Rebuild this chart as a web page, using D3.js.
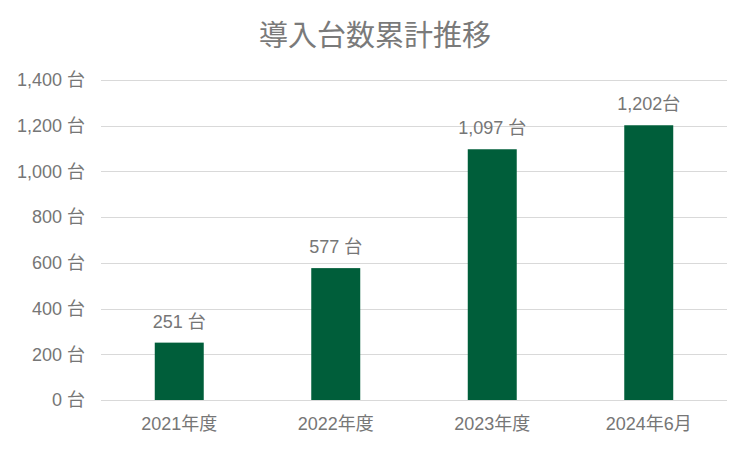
<!DOCTYPE html>
<html><head><meta charset="utf-8">
<script src="https://cdn.jsdelivr.net/npm/d3@7"></script>
<style>body{margin:0;background:#fff}svg{display:block}</style>
</head><body>
<svg id="c" width="750" height="450"></svg>
<script>
const categories = ["2021年度","2022年度","2023年度","2024年6月"];
const values = [251, 577, 1097, 1202];
const valueLabels = ["251 台","577 台","1,097 台","1,202台"];
const yTicks = [0,200,400,600,800,1000,1200,1400];
const yTickLabels = ["0 台","200 台","400 台","600 台","800 台","1,000 台","1,200 台","1,400 台"];
const title = "導入台数累計推移";

const svg = d3.select("#c");
const font = "'Liberation Sans', Arial, 'Noto Sans CJK JP', sans-serif";
const textColor = "#767676";
const x = d3.scaleBand().domain(categories).range([101, 727]).paddingInner(0.687).paddingOuter(0.3435);
const y = d3.scaleLinear().domain([0,1400]).range([400, 80]);

svg.append("text").attr("x", 375).attr("y", 46).attr("text-anchor","middle")
  .attr("font-family", font).attr("font-size", 29).attr("fill", "#7a7a7a").text(title);

const grid = svg.append("g");
grid.selectAll("line").data(yTicks).join("line")
  .attr("x1", 101).attr("x2", 727)
  .attr("y1", d => Math.round(y(d))+0.5).attr("y2", d => Math.round(y(d))+0.5)
  .attr("stroke", "#d9d9d9").attr("stroke-width", 1);

const yAxis = d3.axisLeft(y).tickValues(yTicks).tickSize(0).tickPadding(0)
  .tickFormat((d,i) => yTickLabels[i]);
const gy = svg.append("g").attr("transform","translate(85,0)").call(yAxis);
gy.select(".domain").remove();
gy.selectAll("text").attr("font-family", font).attr("font-size", 18).attr("fill", textColor);

const xAxis = d3.axisBottom(x).tickSize(0).tickPadding(0);
const gx = svg.append("g").attr("transform","translate(0,417)").call(xAxis);
gx.select(".domain").remove();
gx.selectAll("text").attr("font-family", font).attr("font-size", 18).attr("fill", textColor).attr("dy","0.71em");

svg.append("g").selectAll("rect").data(values).join("rect")
  .attr("x", (d,i) => x(categories[i])).attr("width", x.bandwidth())
  .attr("y", d => y(d)).attr("height", d => y(0) - y(d))
  .attr("fill", "#005E3A");

svg.append("g").selectAll("text").data(values).join("text")
  .attr("x", (d,i) => x(categories[i]) + x.bandwidth()/2)
  .attr("y", d => y(d) - 15)
  .attr("text-anchor","middle")
  .attr("font-family", font).attr("font-size", 18).attr("fill", textColor)
  .text((d,i) => valueLabels[i]);
</script>
</body></html>
